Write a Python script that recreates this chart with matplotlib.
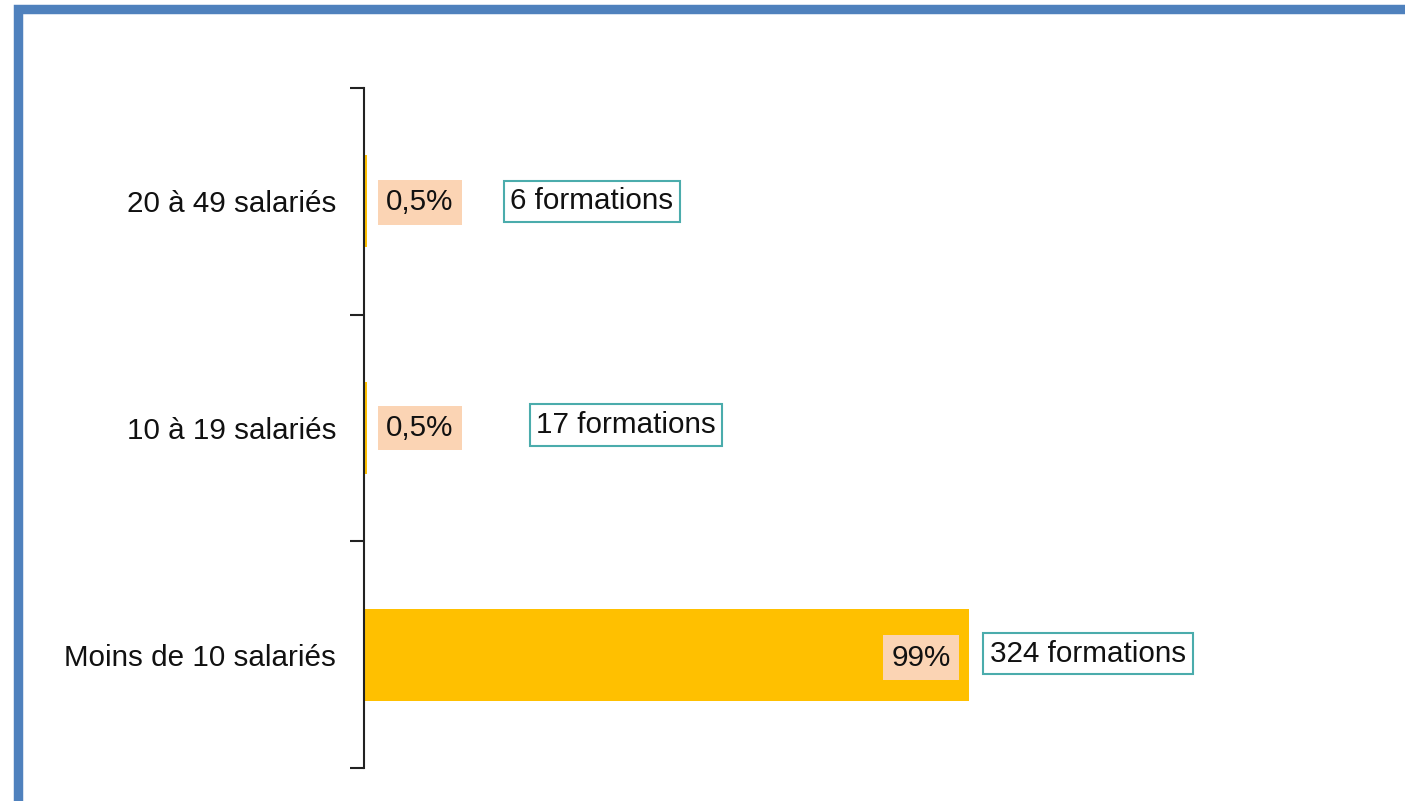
import matplotlib.pyplot as plt
from matplotlib.patches import Rectangle

plt.rcParams["font.family"] = ["Liberation Sans", "DejaVu Sans"]

categories = ["Moins de 10 salariés", "10 à 19 salariés", "20 à 49 salariés"]
shares = [99, 0.5, 0.5]
share_labels = ["99%", "0,5%", "0,5%"]
counts = [324, 17, 6]

BAR = "#FFC000"
PEACH = "#FBD4B4"
TEAL = "#4BACAC"
FS = 21.3

fig = plt.figure(figsize=(14.05, 8.01), dpi=100)
ax = fig.add_axes([364 / 1405, 33 / 801, 1011 / 1405, 680 / 801])

y = range(len(categories))
ax.barh(y, shares, height=0.405, color=BAR, zorder=2)

ax.set_xlim(0, 99 * 1011 / 605)
ax.set_ylim(-0.5, len(categories) - 0.5)

# boundary ticks on the axis, category names at the bar centres
ax.set_yticks([i - 0.5 for i in range(len(categories) + 1)])
ax.set_yticklabels([])
ax.set_yticks(list(y), minor=True)
ax.set_yticklabels(categories, minor=True, fontsize=FS, color="#111111")
ax.tick_params(axis="y", which="major", length=10, width=1.5, color="#222222")
ax.tick_params(axis="y", which="minor", length=0, pad=20)
ax.set_xticks([])
for side in ["top", "right", "bottom"]:
    ax.spines[side].set_visible(False)
ax.spines["left"].set_linewidth(1.5)
ax.spines["left"].set_color("#222222")
ax.spines["left"].set_zorder(3)

# percentage labels and number of trainings
pct_offsets = [(-48, 3), (53, 0), (53, 1)]
count_offsets = [(119, -1), (259, -3), (225, 0)]
for i, (v, lab, n) in enumerate(zip(shares, share_labels, counts)):
    dx, dy = pct_offsets[i]
    ax.annotate(lab, xy=(v, i), xytext=(dx, -dy), textcoords="offset pixels",
                ha="center", va="center", fontsize=FS, color="#111111", zorder=4,
                bbox=dict(boxstyle="square,pad=0.28", fc=PEACH, ec="none"))
    dx, dy = count_offsets[i]
    ax.annotate(f"{n} formations", xy=(v, i), xytext=(dx, -dy),
                textcoords="offset pixels", ha="center", va="center",
                fontsize=FS, color="#111111", zorder=4,
                bbox=dict(boxstyle="square,pad=0.22", fc="white", ec=TEAL, lw=1.5))

# blue frame, cut off on the right and at the bottom
fig.patches.append(Rectangle((18 / 1405, -0.2), 1.5, (792 + 160) / 801 - 0.0,
                             transform=fig.transFigure, fill=False,
                             ec="#4F81BD", lw=6.8, zorder=0))

fig.savefig("out.png", dpi=100)
